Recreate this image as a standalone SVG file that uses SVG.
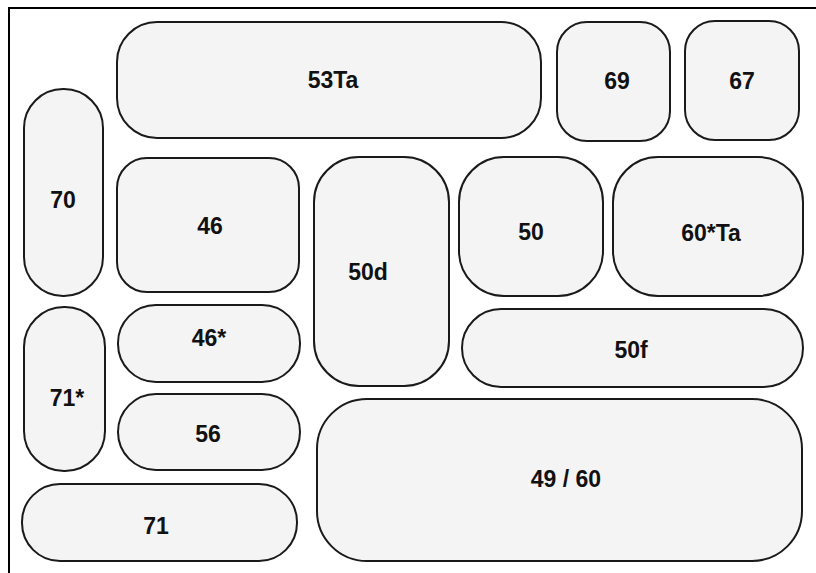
<svg xmlns="http://www.w3.org/2000/svg" width="816" height="573" viewBox="0 0 816 573">
<style>
.n{fill:#f4f4f4;stroke:#1a1a1a;stroke-width:2}
.t{font-family:"Liberation Sans",Arial,sans-serif;font-weight:bold;font-size:23px;fill:#111;text-anchor:middle}
.f{fill:#fff;stroke:#000;stroke-width:2}
</style>
<rect class="f" x="9" y="8" width="820" height="580"/>
<g id="n53Ta"><rect class="n" x="117" y="22" width="424" height="116" rx="40"/><text class="t" x="333" y="88">53Ta</text></g>
<g id="n69"><rect class="n" x="557" y="22" width="113" height="119" rx="30"/><text class="t" x="617" y="89">69</text></g>
<g id="n67"><rect class="n" x="685" y="21" width="114" height="119" rx="30"/><text class="t" x="742" y="89">67</text></g>
<g id="n70"><rect class="n" x="24" y="89" width="79" height="207" rx="39"/><text class="t" x="63" y="208">70</text></g>
<g id="n46"><rect class="n" x="117" y="158" width="182" height="134" rx="30"/><text class="t" x="210" y="234">46</text></g>
<g id="n50d"><rect class="n" x="314" y="157" width="135" height="229" rx="45"/><text class="t" x="368" y="280">50d</text></g>
<g id="n50"><rect class="n" x="459" y="157" width="144" height="139" rx="45"/><text class="t" x="531" y="240">50</text></g>
<g id="n60Ta"><rect class="n" x="613" y="157" width="190" height="139" rx="45"/><text class="t" x="711" y="241">60*Ta</text></g>
<g id="n50f"><rect class="n" x="462" y="309" width="341" height="78" rx="39"/><text class="t" x="631" y="358">50f</text></g>
<g id="n46s"><rect class="n" x="118" y="305" width="182" height="77" rx="38"/><text class="t" x="209" y="346">46*</text></g>
<g id="n71s"><rect class="n" x="24" y="307" width="81" height="164" rx="40"/><text class="t" x="67" y="406">71*</text></g>
<g id="n56"><rect class="n" x="118" y="394" width="182" height="76" rx="38"/><text class="t" x="208" y="442">56</text></g>
<g id="n71"><rect class="n" x="22" y="484" width="275" height="77" rx="38"/><text class="t" x="156" y="534">71</text></g>
<g id="n4960"><rect class="n" x="317" y="399" width="485" height="162" rx="50"/><text class="t" x="566" y="487">49 / 60</text></g>
<g id="connectors"></g>
</svg>
